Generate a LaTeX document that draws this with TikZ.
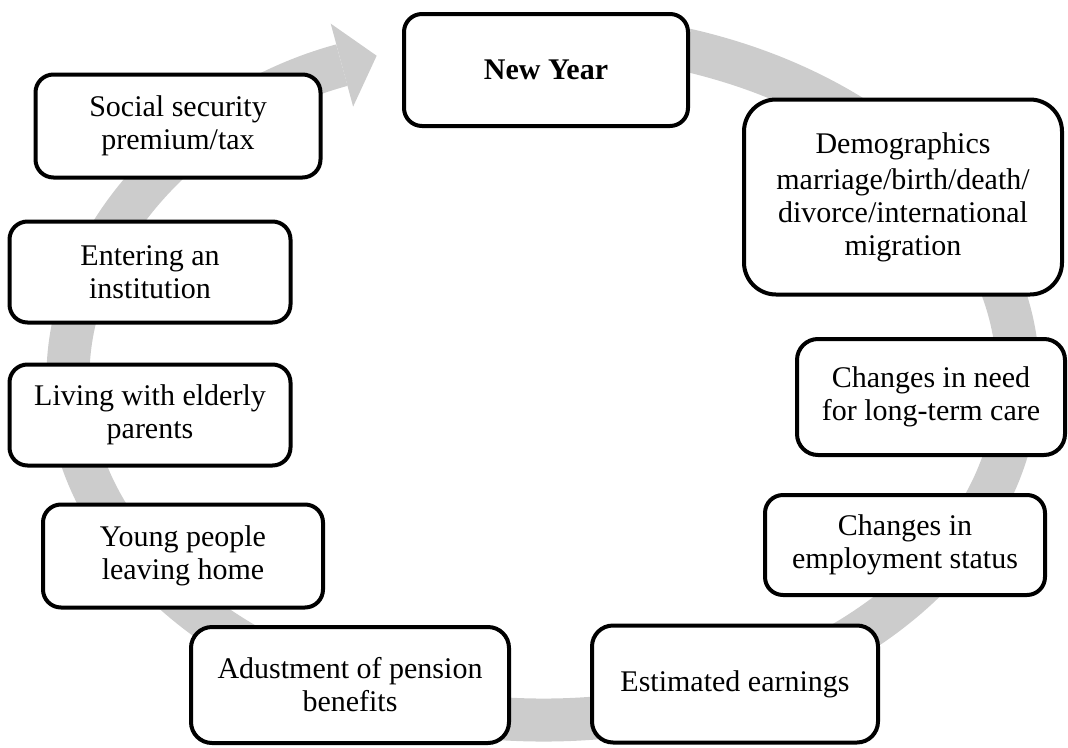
\documentclass[tikz,border=0pt]{standalone}
\usepackage{fontspec}
\setmainfont{Liberation Serif}
\usepackage{tikz}
\usetikzlibrary{arrows.meta}

\begin{document}
\begin{tikzpicture}[
    x=1pt, y=-1pt,
    font=\fontsize{30}{33}\selectfont,
    box/.style={draw, line width=4pt, rounded corners=18pt, fill=white, align=center, inner sep=0pt},
    bigbox/.style={box, rounded corners=21pt},
    ring/.style={draw=gray!40, line width=43pt, -{Triangle[length=36pt, width=86pt, line width=0pt]}}
]
\useasboundingbox (0,0) rectangle (1068,747);

% --- grey cycle arrow behind the boxes ---
\coordinate (ctr) at (543,377);
\draw[ring] (ctr) ++(-83:475 and 343)
    arc[start angle=-83, end angle=249.5, x radius=475, y radius=343];

% --- steps, clockwise from the top ---
\node[box, minimum width=284, minimum height=112] (newyr) at (546,70) {\textbf{New Year}};
\node[box, rounded corners=32pt, minimum width=318, minimum height=195] (demog) at (903,197)
    {Demographics\\[3pt]marriage/birth/death/\\divorce/international\\migration};
\node[bigbox, minimum width=268, minimum height=116] (care) at (931,397) {Changes in need\\for long-term care};
\node[box, minimum width=280, minimum height=100] (employ) at (905,545) {Changes in\\employment status};
\node[bigbox, minimum width=286, minimum height=117] (earn) at (735,684) {Estimated earnings};
\node[bigbox, minimum width=318, minimum height=116] (pension) at (350,685) {Adustment of pension\\benefits};
\node[box, minimum width=280, minimum height=103] (young) at (183,556) {Young people\\leaving home};
\node[box, minimum width=281, minimum height=101] (elderly) at (150,415) {Living with elderly\\parents};
\node[box, minimum width=281, minimum height=101] (inst) at (150,272) {Entering an\\institution};
\node[box, minimum width=285, minimum height=103] (social) at (178,126) {Social security\\premium/tax};

\end{tikzpicture}
\end{document}
